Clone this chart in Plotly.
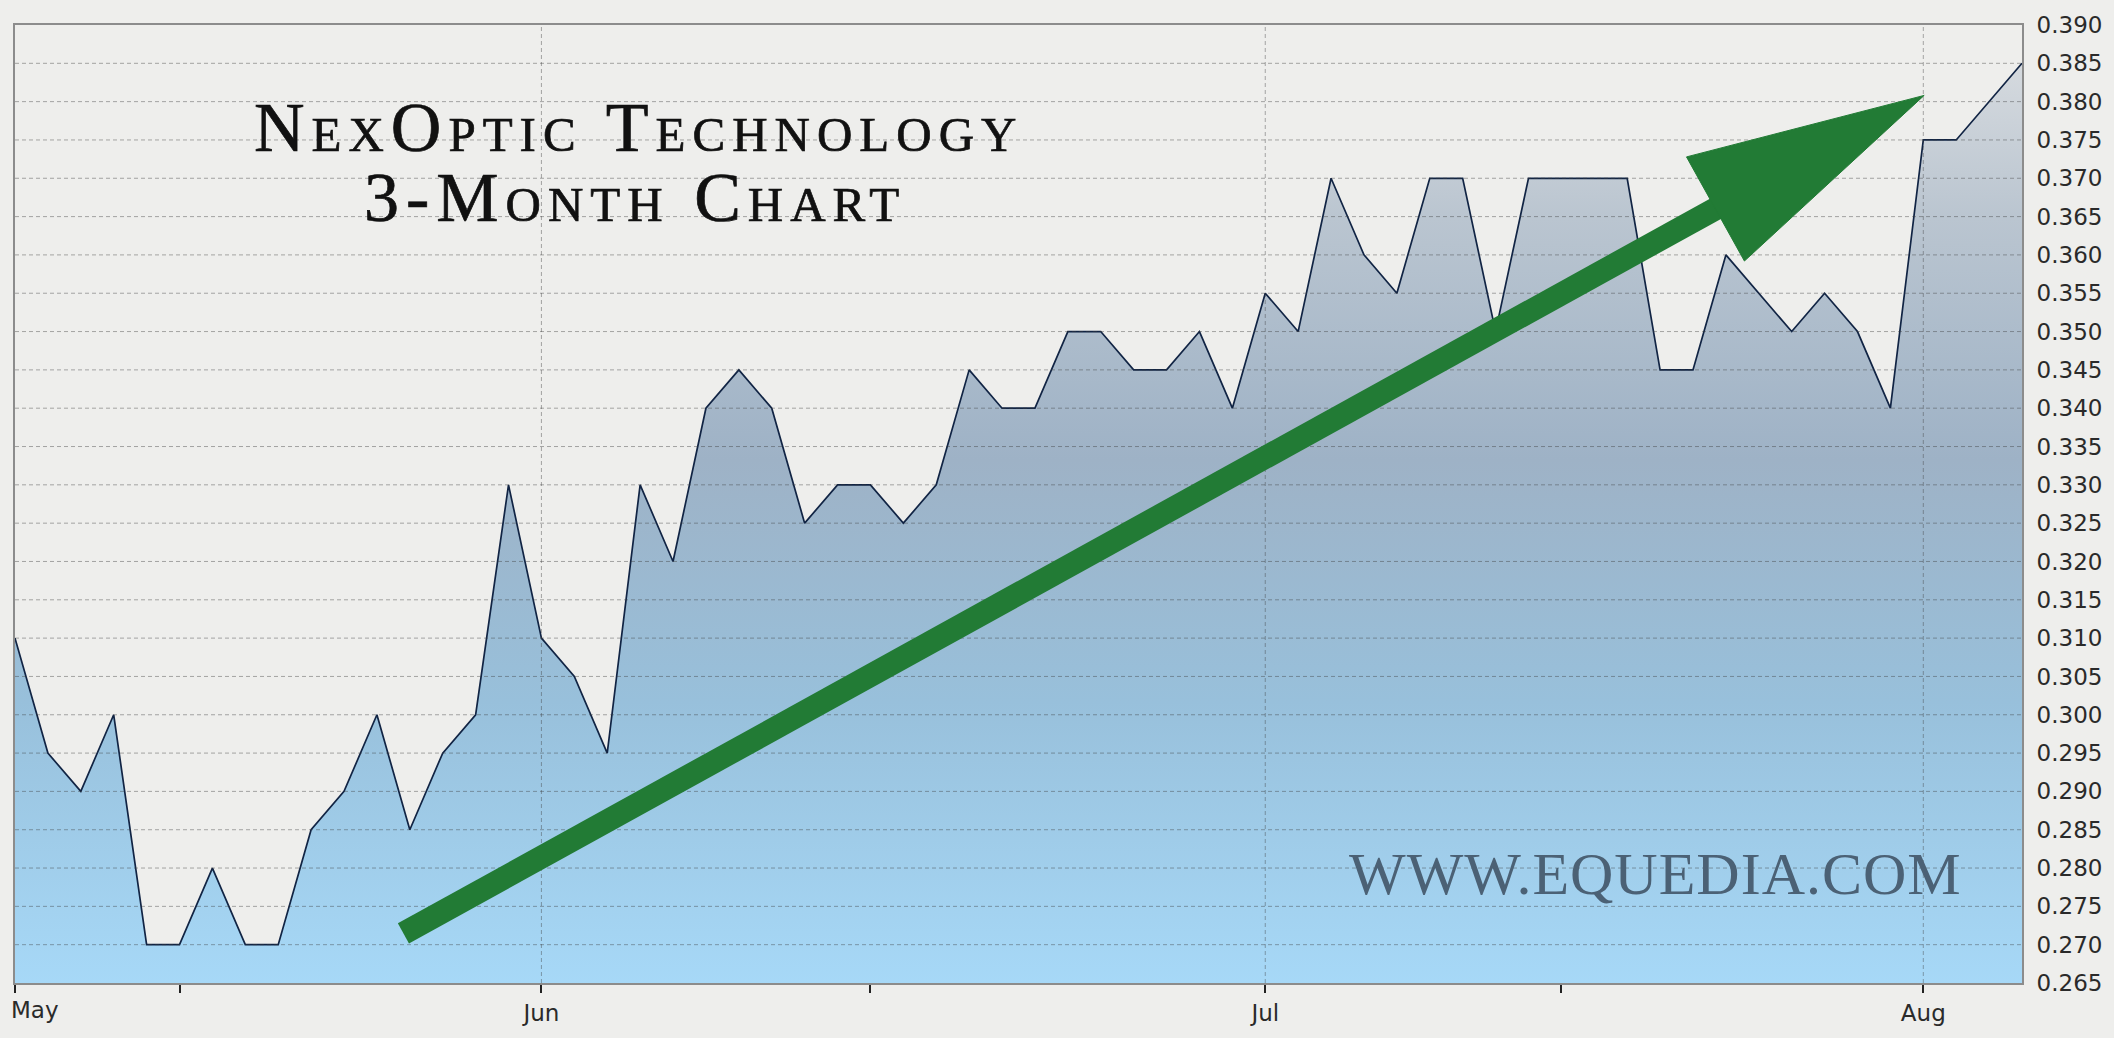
import plotly.graph_objects as go

# ---------------- data ----------------
sessions = list(range(62))  # trading sessions from start of May to early Aug
prices = [
    0.310, 0.295, 0.290, 0.300, 0.270, 0.270, 0.280, 0.270, 0.270, 0.285,
    0.290, 0.300, 0.285, 0.295, 0.300, 0.330, 0.310, 0.305, 0.295, 0.330,
    0.320, 0.340, 0.345, 0.340, 0.325, 0.330, 0.330, 0.325, 0.330, 0.345,
    0.340, 0.340, 0.350, 0.350, 0.345, 0.345, 0.350, 0.340, 0.355, 0.350,
    0.370, 0.360, 0.355, 0.370, 0.370, 0.350, 0.370, 0.370, 0.370, 0.370,
    0.345, 0.345, 0.360, 0.355, 0.350, 0.355, 0.350, 0.340, 0.375, 0.375,
    0.380, 0.385,
]
month_tick_positions = [16, 38, 58]
month_tick_labels = ["Jun", "Jul", "Aug"]
first_month_label = "May"
mid_month_ticks = [5, 26, 47]
y_ticks = [round(0.265 + 0.005 * i, 3) for i in range(26)]
y_min, y_max = 0.265, 0.390

title_line1 = "NexOptic Technology"
title_line2 = "3-Month Chart"
watermark = "WWW.EQUEDIA.COM"

# ---------------- layout geometry (pixels) ----------------
W, H = 2114, 1038
L, R, T, B = 15, 2025, 17, 983


def px(x):
    return (x - L) / (R - L)


def py(y):
    return (B - y) / (B - T)


BG = "#EEEEEC"
GREEN = "#227B35"

fig = go.Figure()
fig.add_trace(go.Scatter(
    x=sessions, y=prices, mode="lines",
    line=dict(color="#112444", width=1.7),
    fill="tozeroy",
    fillgradient=dict(
        type="vertical", start=y_min, stop=y_max,
        colorscale=[
            [0.0, "rgb(167,217,248)"],
            [0.3, "rgb(152,192,219)"],
            [0.55, "rgb(158,178,198)"],
            [0.8, "rgb(186,197,208)"],
            [1.0, "rgb(220,223,226)"],
        ],
    ),
    hoverinfo="skip", showlegend=False,
))

shapes = []
grid_line = dict(color="rgba(60,60,60,0.42)", width=1, dash="4px,3px")
for v in y_ticks[1:-1]:
    shapes.append(dict(type="line", xref="paper", yref="y", x0=0, x1=1,
                       y0=v, y1=v, line=grid_line, layer="above"))
for t in month_tick_positions:
    shapes.append(dict(type="line", xref="x", yref="paper", x0=t, x1=t,
                       y0=0, y1=1, line=grid_line, layer="above"))

# green trend arrow
shapes.append(dict(type="line", xref="paper", yref="paper",
                   x0=px(404), y0=py(933), x1=px(1742), y1=py(189),
                   line=dict(color=GREEN, width=23), layer="above"))
shapes.append(dict(type="path", xref="paper", yref="paper",
                   path=f"M {px(1927)} {py(88)} L {px(1689)} {py(150)} L {px(1747)} {py(255)} Z",
                   fillcolor=GREEN, line=dict(color=GREEN, width=1), layer="above"))

title_style = "letter-spacing:7px;stroke:#111111;stroke-width:0.7px"
annotations = [
    dict(text=f'<span style="{title_style}">{title_line1}</span>',
         xref="paper", yref="paper", x=px(639), y=py(120),
         xanchor="center", yanchor="middle", showarrow=False,
         font=dict(family="Liberation Serif", size=70, color="#111111", variant="small-caps")),
    dict(text=f'<span style="{title_style}">{title_line2}</span>',
         xref="paper", yref="paper", x=px(636), y=py(191),
         xanchor="center", yanchor="middle", showarrow=False,
         font=dict(family="Liberation Serif", size=70, color="#111111", variant="small-caps")),
    dict(text=f'<span style="letter-spacing:1px">{watermark}</span>',
         xref="paper", yref="paper", x=px(1658), y=py(873),
         xanchor="center", yanchor="middle", showarrow=False,
         font=dict(family="Liberation Serif", size=60, color="#4B6175")),
    dict(text=first_month_label, xref="x", yref="paper", x=sessions[0], y=0,
         xanchor="left", yanchor="top", xshift=-6, yshift=-12, showarrow=False,
         font=dict(family="DejaVu Sans", size=23, color="#2a2a2a")),
]

fig.update_layout(
    width=W, height=H,
    margin=dict(l=L, r=W - R, t=T, b=H - B, pad=0),
    paper_bgcolor=BG, plot_bgcolor=BG,
    shapes=shapes, annotations=annotations,
    showlegend=False,
    xaxis=dict(
        range=[sessions[0], sessions[-1]],
        tickmode="array", tickvals=[sessions[0]] + month_tick_positions,
        ticktext=[""] + month_tick_labels,
        ticks="outside", ticklen=8, tickwidth=2, tickcolor="#222222",
        showgrid=False, zeroline=False,
        showline=True, mirror=True, linecolor="#8C8C8C", linewidth=2,
        tickfont=dict(family="DejaVu Sans", size=23, color="#2a2a2a"),
        minor=dict(tickmode="array", tickvals=mid_month_ticks, ticks="outside",
                   ticklen=8, tickwidth=2, tickcolor="#222222", showgrid=False),
        fixedrange=True,
    ),
    yaxis=dict(
        range=[y_min, y_max], side="right",
        tickmode="array", tickvals=y_ticks, tickformat=".3f",
        ticks="", showgrid=False, zeroline=False,
        showline=True, mirror=True, linecolor="#8C8C8C", linewidth=2,
        tickfont=dict(family="DejaVu Sans", size=23, color="#2a2a2a"),
        ticklabelstandoff=8,
        fixedrange=True,
    ),
)

fig.write_html("out.html", config={"displayModeBar": False},
               post_script="document.body.style.margin='0';document.body.style.overflow='hidden';")
